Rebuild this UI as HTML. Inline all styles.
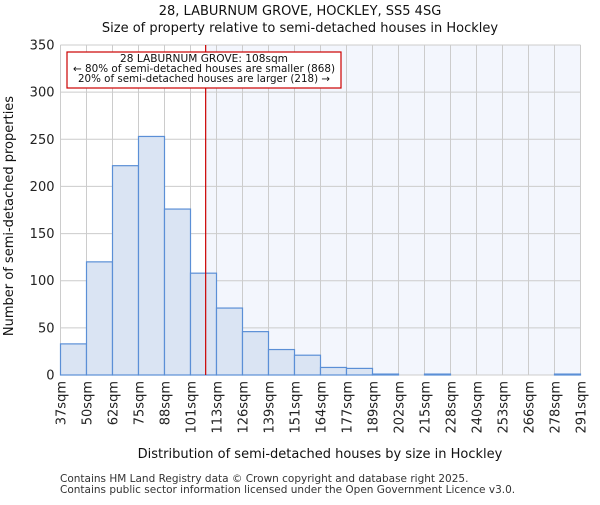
<!DOCTYPE html>
<html><head><meta charset="utf-8"><style>body{margin:0;background:#fff}svg{font-family:"DejaVu Sans","Liberation Sans",sans-serif}</style></head>
<body>
<svg id="c" width="600" height="500"></svg>
<script>
const edges=["37sqm","50sqm","62sqm","75sqm","88sqm","101sqm","113sqm","126sqm","139sqm","151sqm","164sqm","177sqm","189sqm","202sqm","215sqm","228sqm","240sqm","253sqm","266sqm","278sqm","291sqm"];
const counts=[33,120,222,253,176,108,71,46,27,21,8,7,1,0,1,0,0,0,0,1];
const yTicks=[0,50,100,150,200,250,300,350];
const marker=108; const markerBin=5; const binLo=101, binHi=113;
const L=60.5,R=580.5,T=45,B=375,yMax=350;
const n=counts.length,bw=(R-L)/n;
const x=i=>L+i*bw, y=v=>B-(v/yMax)*(B-T);
const s=document.getElementById('c'),NS="http://www.w3.org/2000/svg";
function el(t,a,txt){const e=document.createElementNS(NS,t);for(const k in a)e.setAttribute(k,a[k]);if(txt!=null)e.textContent=txt;s.appendChild(e);return e;}
const mx=x(markerBin)+(marker-binLo)/(binHi-binLo)*bw;
let e=el('rect',{x:mx,y:T,width:R-mx,height:B-T,fill:'#f3f6fd'});

yTicks.forEach(v=>{let g=el('line',{x1:L,x2:R,y1:y(v),y2:y(v),stroke:'#cccccc','stroke-width':1});

let t=el('text',{x:L-6,y:y(v)+4.5,'text-anchor':'end','font-size':13,fill:'#222'},v);
});
edges.forEach((lb,i)=>{let g=el('line',{x1:x(i),x2:x(i),y1:T,y2:B,stroke:'#cccccc','stroke-width':1});

let t=el('text',{transform:`translate(${x(i)+5},${B+6}) rotate(-90)`,'text-anchor':'end','font-size':13,fill:'#222'},lb);
});
counts.forEach((v,i)=>{let r=el('rect',{x:x(i),y:y(v),width:bw,height:B-y(v),fill:'#dae4f3',stroke:'#5b8fd6','stroke-width':1.2});
});
e=el('line',{x1:mx,x2:mx,y1:T,y2:B,stroke:'#cc0000','stroke-width':1.2});

e=el('rect',{x:67,y:52,width:274,height:36,fill:'#fff',stroke:'#cc0000','stroke-width':1.2});

["28 LABURNUM GROVE: 108sqm","← 80% of semi-detached houses are smaller (868)","20% of semi-detached houses are larger (218) →"].forEach((t,i)=>{
let a=el('text',{x:204,y:62+i*10,'text-anchor':'middle','font-size':10.3,'textLength':i==0?168:(i==1?262:252),'lengthAdjust':'spacingAndGlyphs',fill:'#111'},t);
});
e=el('text',{x:300,y:15,'text-anchor':'middle','font-size':13,fill:'#111'},"28, LABURNUM GROVE, HOCKLEY, SS5 4SG");

e=el('text',{x:300,y:32,'text-anchor':'middle','font-size':13,fill:'#111'},"Size of property relative to semi-detached houses in Hockley");

e=el('text',{x:320,y:458,'text-anchor':'middle','font-size':13,fill:'#111'},"Distribution of semi-detached houses by size in Hockley");

e=el('text',{transform:'translate(13,216) rotate(-90)','text-anchor':'middle','font-size':13,fill:'#111'},"Number of semi-detached properties");

e=el('text',{x:60,y:482,'font-size':10.5,fill:'#333'},"Contains HM Land Registry data © Crown copyright and database right 2025.");

e=el('text',{x:60,y:493,'font-size':10.5,fill:'#333'},"Contains public sector information licensed under the Open Government Licence v3.0.");

</script>
</body></html>
